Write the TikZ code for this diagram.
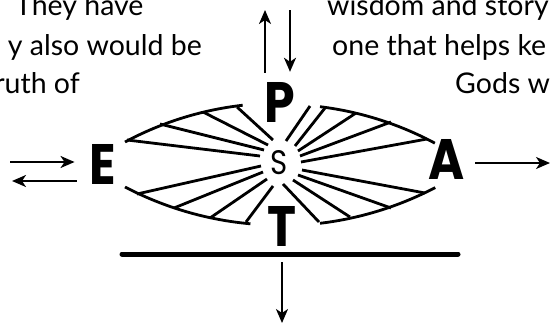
\documentclass[tikz,border=0pt]{standalone}
\usepackage{fontspec}
\setmainfont{Lato}
\newfontfamily\letterfont{Poppins}[FakeStretch=0.86]
\usetikzlibrary{arrows.meta}
\tikzset{flow/.style={-{Stealth[length=14pt,width=12pt,inset=4pt]},line width=2.1pt},
 ray/.style={line width=2.8pt},
 bar/.style={line width=5pt,line cap=round},
 letter/.style={font=\letterfont\bfseries\fontsize{57}{57}\selectfont,inner sep=0pt},
 blurb/.style={font=\fontsize{28.5}{39}\selectfont,inner sep=0pt}}

\begin{document}
\begin{tikzpicture}[x=1pt,y=-1pt]
\useasboundingbox (0,0) rectangle (551,324);
\clip (0,0) rectangle (551,324);
% page text cut by the frame
\node[blurb,anchor=base west] (txtThey) at (15,15) {They have};
\node[blurb,anchor=base east] (txtAlso) at (202,55) {y also would be};
\node[blurb,anchor=base east] (txtTruth) at (80,93) {ruth of};
\node[blurb,anchor=base west] (txtWisdom) at (327,15) {wisdom and story};
\node[blurb,anchor=base west] (txtHelps) at (332,55) {one that helps ke};
\node[blurb,anchor=base west] (txtGods) at (455,93) {Gods w};
% letters
\node[letter] (P) at (280,102) {P};
\node[letter] (E) at (103,164) {E};
\node[letter] (A) at (447,159) {A};
\node[letter] (T) at (282,226) {T};
\node[font=\letterfont\fontsize{34}{34}\selectfont,inner sep=0pt] (S) at (279,163) {S};
% lens
\draw[ray] (125,142) arc[start angle=241.8,end angle=263.5,radius=327.5];
\draw[ray] (320,106.7) arc[start angle=277,end angle=298.2,radius=327.5];
\draw[ray] (125,187) arc[start angle=117.6,end angle=95.1,radius=335];
\draw[ray] (320,223.3) arc[start angle=83.15,end angle=62.4,radius=335];
% rays round S
\draw[ray] (127,140)--(260,156) (160,124)--(264,150) (203,112)--(268,145)
 (237,107)--(273,140);
\draw[ray] (310,106)--(286,141) (325,108)--(295,146) (356,113)--(298,151)
 (391,122)--(300,156) (427,139)--(301,162);
\draw[ray] (137,194)--(261,166) (174,208)--(263,172) (210,218)--(267,179)
 (246,222)--(273,186);
\draw[ray] (319,222)--(283,184) (350,217)--(293,180) (391,208)--(298,175)
 (425,193)--(302,170);
% arrows
\coordinate (pUp) at (265,10);
\coordinate (pDown) at (290,10);
\coordinate (eFar) at (10,162);
\coordinate (eBack) at (12,181);
\coordinate (aFar) at (550,163);
\coordinate (tFar) at (282,323);
\coordinate (barL) at (122,254);
\coordinate (barR) at (458,254);
\draw[flow] ([xshift=-15pt,yshift=9pt]P.north) -- (pUp);
\draw[flow] (pDown) -- ([xshift=10pt,yshift=10pt]P.north);
\draw[flow] (eFar) -- ([xshift=-15pt,yshift=2pt]E.west);
\draw[flow] ([xshift=-13pt,yshift=-17pt]E.west) -- (eBack);
\draw[flow] ([xshift=10pt,yshift=-4pt]A.east) -- (aFar);
\draw[bar] (barL) -- (barR);
\draw[flow] ([yshift=-16pt]T.south) -- (tFar);
\end{tikzpicture}
\end{document}
